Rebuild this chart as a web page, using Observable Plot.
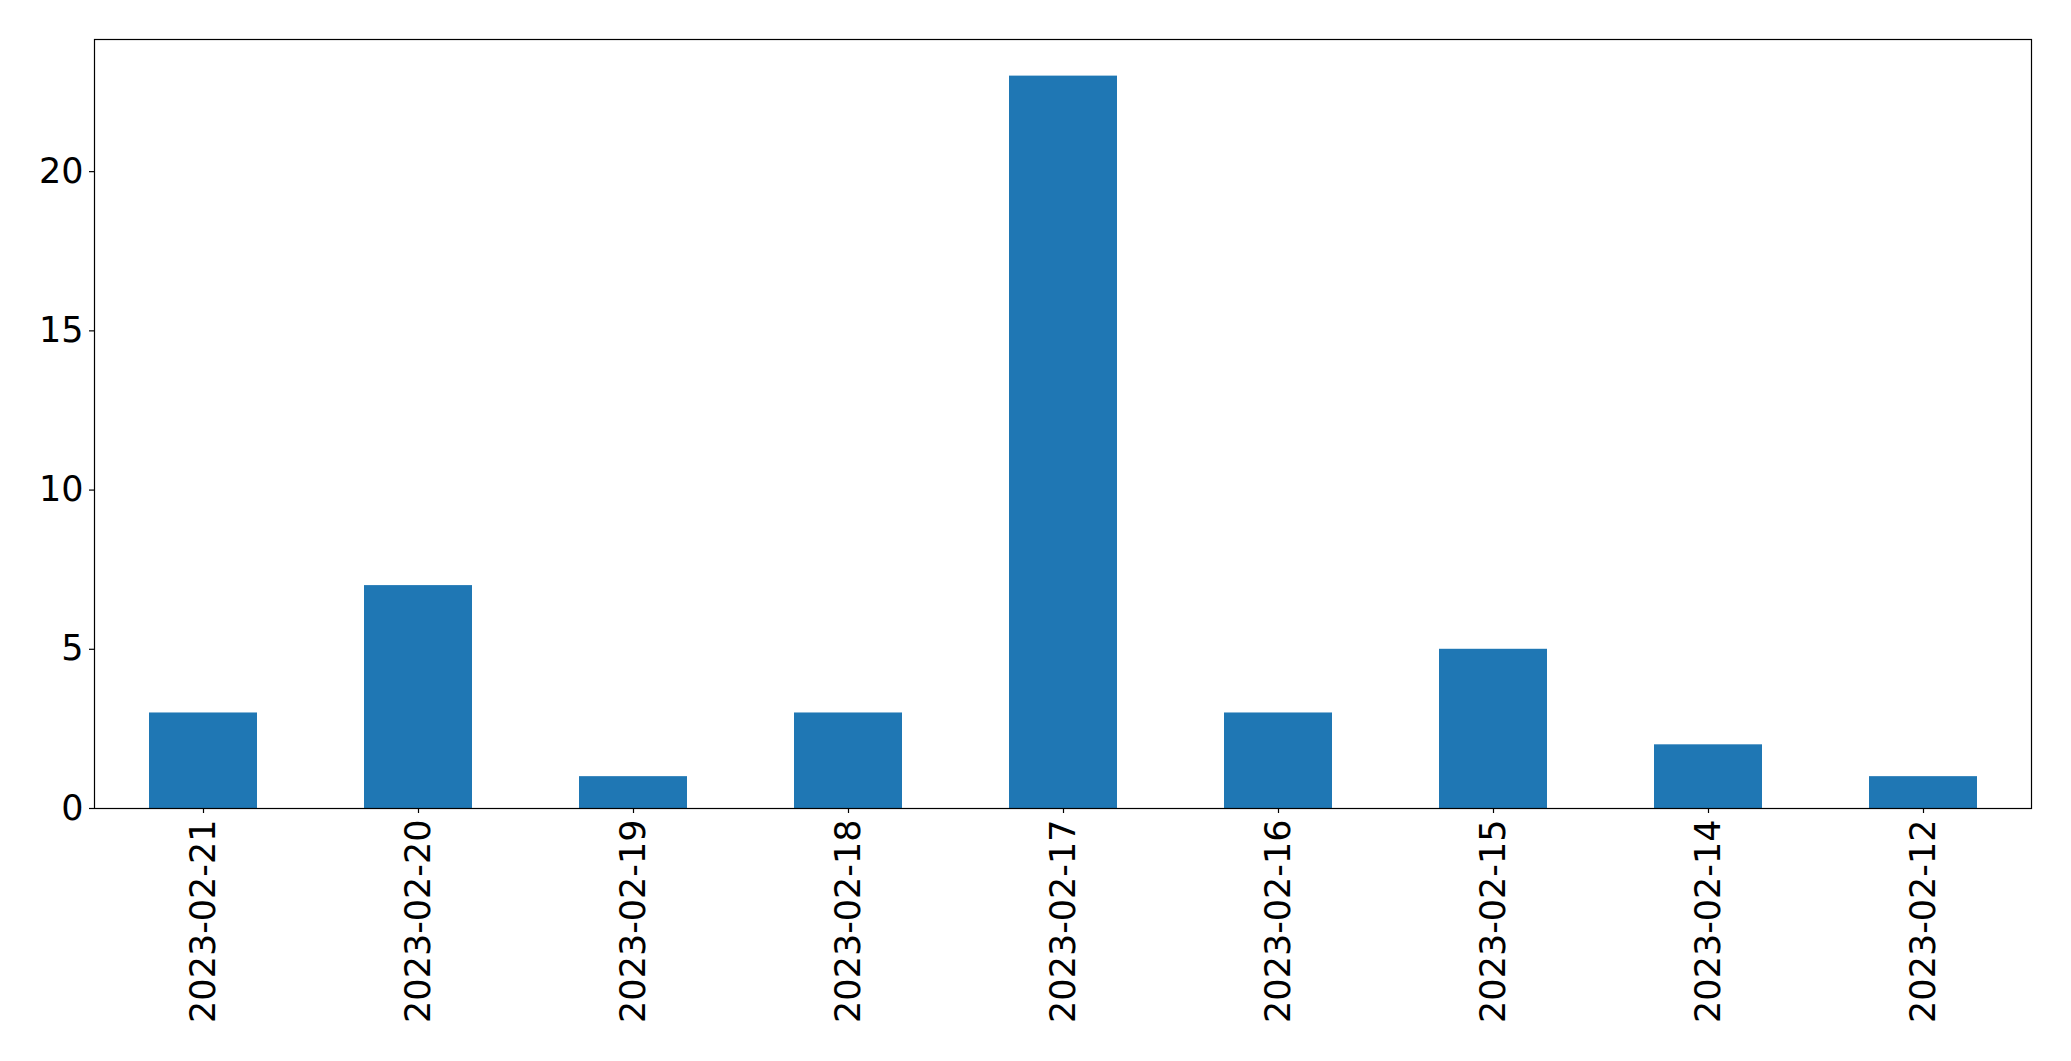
<!DOCTYPE html>
<html>
<head>
<meta charset="utf-8">
<script src="https://cdn.jsdelivr.net/npm/d3@7"></script>
<script src="https://cdn.jsdelivr.net/npm/@observablehq/plot@0.6"></script>
<style>
  html, body { margin: 0; padding: 0; background: #fff; }
  #chart svg { display: block; }
</style>
</head>
<body>
<div id="chart"></div>
<script>
const dates = ["2023-02-21", "2023-02-20", "2023-02-19", "2023-02-18", "2023-02-17", "2023-02-16", "2023-02-15", "2023-02-14", "2023-02-12"];
const counts = [3, 7, 1, 3, 23, 3, 5, 2, 1];
const yTicks = [0, 5, 10, 15, 20];

const data = dates.map((d, i) => ({date: d, count: counts[i]}));

const chart = Plot.plot({
  width: 2071,
  height: 1061,
  marginLeft: 94,
  marginRight: 40,
  marginTop: 39,
  marginBottom: 253,
  style: {fontFamily: "DejaVu Sans", fontSize: "35px", color: "#000", background: "#fff"},
  x: {domain: dates, paddingInner: 0.5, paddingOuter: 0.25, label: null},
  y: {domain: [0, 24.15], label: null},
  marks: [
    Plot.barY(data, {x: "date", y: "count", fill: "#1f77b4"}),
    Plot.frame({stroke: "#000", strokeWidth: 1.2, strokeOpacity: 1}),
    Plot.axisY({ticks: yTicks, tickSize: 5, tickPadding: 6, fontSize: 35, label: null, stroke: "#000", strokeWidth: 1.2, strokeOpacity: 1}),
    Plot.axisX({tickSize: 5, tickPadding: 6, tickRotate: -90, fontSize: 35, label: null, stroke: "#000", strokeWidth: 1.2, strokeOpacity: 1})
  ]
});
document.getElementById("chart").appendChild(chart);
</script>
</body>
</html>
